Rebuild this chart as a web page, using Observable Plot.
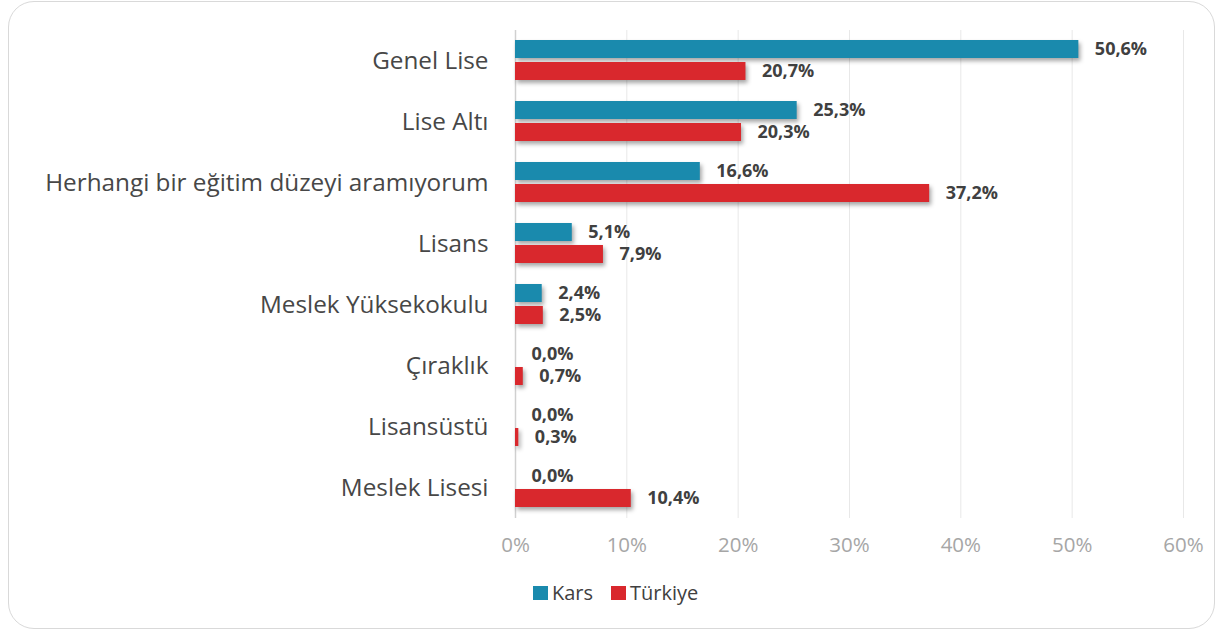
<!DOCTYPE html>
<html>
<head>
<meta charset="utf-8">
<script src="https://cdn.jsdelivr.net/npm/d3@7"></script>
<script src="https://cdn.jsdelivr.net/npm/@observablehq/plot@0.6"></script>
<style>
  html, body { margin: 0; padding: 0; background: #fff; }
  #wrap { position: relative; width: 1219px; height: 632px; overflow: hidden; font-family: "Open Sans", sans-serif; }
  #frame { position: absolute; left: 8px; top: 1px; width: 1205px; height: 626px; border: 1.5px solid #d9d9d9; border-radius: 26px; box-sizing: content-box; }
  #chart { position: absolute; left: 0; top: 0; }
  #legend { position: absolute; left: 533px; top: 579px; display: flex; align-items: center; font-size: 20px; color: #404040; }
  .sw { display: inline-block; width: 15px; height: 14px; margin-right: 4px; }
  .item { display: flex; align-items: center; margin-right: 18px; }
</style>
</head>
<body>
<div id="wrap">
  <div id="frame"></div>
  <div id="chart"></div>
  <div id="legend"></div>
</div>
<script>
const categories = ["Genel Lise", "Lise Altı", "Herhangi bir eğitim düzeyi aramıyorum", "Lisans", "Meslek Yüksekokulu", "Çıraklık", "Lisansüstü", "Meslek Lisesi"];
const kars = [50.6, 25.3, 16.6, 5.1, 2.4, 0.0, 0.0, 0.0];
const turkiye = [20.7, 20.3, 37.2, 7.9, 2.5, 0.7, 0.3, 10.4];
const series = ["Kars", "Türkiye"];
const colors = ["#1a8aad", "#d9282d"];
const xTicks = [0, 10, 20, 30, 40, 50, 60];

const data = [];
categories.forEach((c, i) => {
  data.push({category: c, series: "Kars", value: kars[i]});
  data.push({category: c, series: "Türkiye", value: turkiye[i]});
});
const fmt = v => d3.format(".1f")(v).replace(".", ",") + "%";

const chart = Plot.plot({
  width: 1219,
  height: 632,
  marginLeft: 515,
  marginRight: 36,
  marginTop: 27,
  marginBottom: 112,
  style: {fontFamily: "Open Sans, sans-serif", fontSize: "19px", color: "#a6a6a6", background: "transparent"},
  x: {domain: [0, 60], ticks: xTicks, tickFormat: d => d + "%", tickSize: 0, tickPadding: 19, label: null},
  fy: {domain: categories, padding: 0, label: null, tickSize: 0, tickPadding: 27},
  y: {domain: series, axis: null, paddingInner: 0.174, paddingOuter: 0.426},
  color: {domain: series, range: colors},
  marks: [
    Plot.ruleX(xTicks.slice(1), {stroke: "#e8e8e8", strokeWidth: 1}),
    Plot.ruleX([0], {stroke: "#d0d0d0", strokeWidth: 1.5}),
    Plot.barX(data, {fy: "category", y: "series", x: "value", fill: "series"}),
    Plot.text(data, {fy: "category", y: "series", x: "value", text: d => fmt(d.value), dx: 16, textAnchor: "start", fill: "#404040", fontWeight: "bold", fontSize: 18})
  ]
});
document.getElementById("chart").appendChild(chart);

const svg = d3.select(chart);
svg.selectAll('[aria-label^="fy-axis"] text').style("font-size", "24.3px").attr("fill", "#474747").style("fill", "#474747");
svg.selectAll('[aria-label^="x-axis"] text').style("font-size", "20.5px").attr("fill", "#a6a6a6");
svg.selectAll('[aria-label="bar"] rect').style("filter", "drop-shadow(2px 3px 2px rgba(0,0,0,0.35))");

const legend = d3.select("#legend");
series.forEach((s, i) => {
  const it = legend.append("div").attr("class", "item");
  it.append("span").attr("class", "sw").style("background", colors[i]);
  it.append("span").text(s);
});
</script>
</body>
</html>
